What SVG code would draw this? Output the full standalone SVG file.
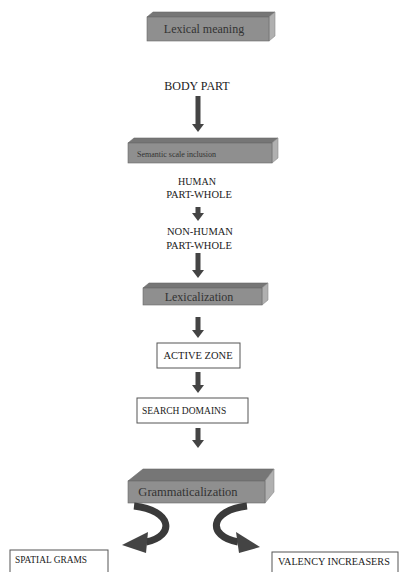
<svg xmlns="http://www.w3.org/2000/svg" width="409" height="572" viewBox="0 0 409 572">
<style>
.front{fill:#8f8f8f;stroke:#6a6a6a;stroke-width:0.6}
.top{fill:#767676;stroke:#6a6a6a;stroke-width:0.6}
.side{fill:#b0b0b0;stroke:#8a8a8a;stroke-width:0.6}
.lbl{font-family:"Liberation Serif",serif;fill:#1a1a1a}
.glbl{font-family:"Liberation Serif",serif;fill:#333;font-size:12px}
.box{fill:#ffffff;stroke:#555;stroke-width:1}
.arr{fill:#444}
.curve{fill:none;stroke:#3a3a3a;stroke-width:7}
</style>
<defs>
<polygon id="arrowhead" points="-6,0 6,0 0,8"/>
</defs>
<rect width="409" height="572" fill="#fff"/>

<g id="lexical-meaning">
<polygon class="top" points="147,17 153,12 275,12 269,17"/>
<polygon class="side" points="269,17 275,12 275,36 269,41"/>
<rect class="front" x="147" y="17" width="122" height="24"/>
<text class="glbl" x="204" y="33" text-anchor="middle">Lexical meaning</text>
</g>

<g id="body-part">
<text class="lbl" x="197" y="90" font-size="12" text-anchor="middle">BODY PART</text>
</g>

<g id="semantic-scale">
<polygon class="top" points="128,143 134,138 278,138 272,143"/>
<polygon class="side" points="272,143 278,138 278,158 272,163"/>
<rect class="front" x="128" y="143" width="144" height="20"/>
<text class="glbl" x="137" y="157" font-size="8" style="font-size:8px">Semantic scale inclusion</text>
</g>

<g id="human">
<text class="lbl" x="197" y="185" font-size="10" text-anchor="middle">HUMAN</text>
<text class="lbl" x="199" y="198" font-size="10.5" text-anchor="middle">PART-WHOLE</text>
</g>

<g id="non-human">
<text class="lbl" x="200" y="235" font-size="10.5" text-anchor="middle">NON-HUMAN</text>
<text class="lbl" x="199" y="249" font-size="10.5" text-anchor="middle">PART-WHOLE</text>
</g>

<g id="lexicalization">
<polygon class="top" points="143,288 149,283 268,283 262,288"/>
<polygon class="side" points="262,288 268,283 268,300 262,305"/>
<rect class="front" x="143" y="288" width="119" height="17"/>
<text class="glbl" x="199" y="301" text-anchor="middle">Lexicalization</text>
</g>

<g id="active-zone">
<rect class="box" x="157" y="343" width="83" height="25"/>
<text class="lbl" x="198" y="359" font-size="10.5" text-anchor="middle">ACTIVE ZONE</text>
</g>

<g id="search-domains">
<rect class="box" x="137" y="398" width="111" height="25"/>
<text class="lbl" x="142" y="414" font-size="9.5">SEARCH DOMAINS</text>
</g>

<g id="grammaticalization">
<polygon class="top" points="128,481 143,469 274,469 265,481"/>
<polygon class="side" points="265,481 274,469 274,492 265,503"/>
<rect class="front" x="128" y="481" width="137" height="22"/>
<text class="glbl" x="188" y="496" text-anchor="middle" style="font-size:12.5px">Grammaticalization</text>
</g>

<g id="spatial-grams">
<rect class="box" x="10" y="550" width="98" height="30"/>
<text class="lbl" x="15" y="563" font-size="9.4">SPATIAL GRAMS</text>
</g>

<g id="valency-increasers">
<rect class="box" x="272" y="552" width="126" height="30"/>
<text class="lbl" x="278" y="565" font-size="10.2">VALENCY INCREASERS</text>
</g>

<g id="connectors">
<rect class="arr" x="195.5" y="96" width="5" height="29"/>
<use href="#arrowhead" class="arr" x="198" y="124"/>
<rect class="arr" x="195.5" y="207" width="5" height="7"/>
<use href="#arrowhead" class="arr" x="198" y="213"/>
<rect class="arr" x="195.5" y="253" width="5" height="18"/>
<use href="#arrowhead" class="arr" x="198" y="270"/>
<rect class="arr" x="195.5" y="317" width="5" height="14"/>
<use href="#arrowhead" class="arr" x="198" y="330"/>
<rect class="arr" x="195.5" y="372" width="5" height="14"/>
<use href="#arrowhead" class="arr" x="198" y="385"/>
<rect class="arr" x="195.5" y="428" width="5" height="13"/>
<use href="#arrowhead" class="arr" x="198" y="440"/>
<path class="curve" d="M134,506 C172,510 176,536 146,542"/>
<polygon class="arr" points="148,532 146,553 122,545"/>
<path class="curve" d="M247,506 C210,510 206,536 238,542"/>
<polygon class="arr" points="236,532 239,553 260,547"/>
</g>
</svg>
